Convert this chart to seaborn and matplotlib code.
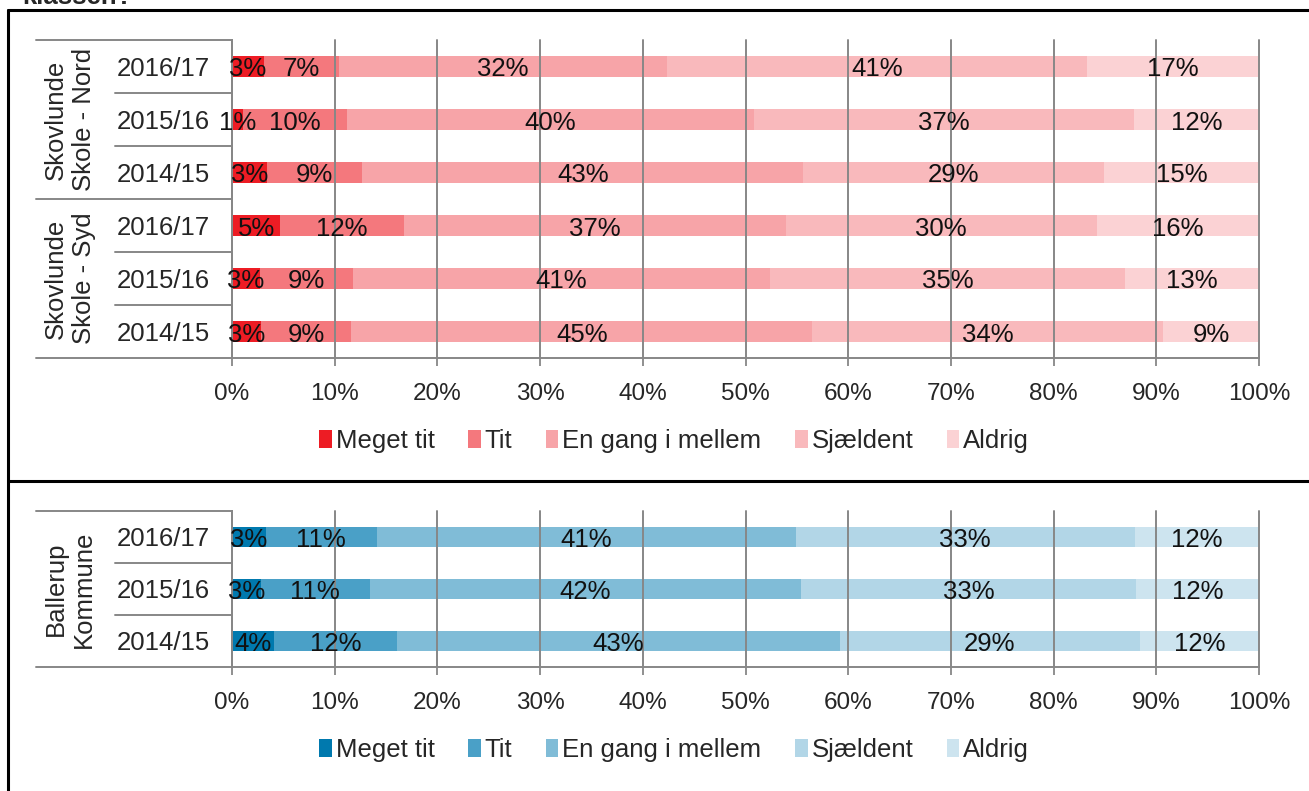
import matplotlib
matplotlib.use("Agg")
import matplotlib.pyplot as plt
import matplotlib.transforms as mtransforms
from matplotlib.patches import Patch
from matplotlib.lines import Line2D
import seaborn as sns
import pandas as pd
import numpy as np

# ---- data -------------------------------------------------------------
responses = ["Meget tit", "Tit", "En gang i mellem", "Sjældent", "Aldrig"]
years = ["2016/17", "2015/16", "2014/15"]
x_ticks = [0, 10, 20, 30, 40, 50, 60, 70, 80, 90, 100]

nord_2016 = [3.1, 7.3, 32.0, 40.9, 16.7]
nord_2015 = [1.1, 10.1, 39.6, 37.0, 12.2]
nord_2014 = [3.4, 9.3, 42.9, 29.3, 15.1]

syd_2016 = [4.7, 12.0, 37.2, 30.3, 15.8]
syd_2015 = [2.7, 9.1, 40.6, 34.6, 13.0]
syd_2014 = [2.8, 8.8, 44.9, 34.2, 9.3]

ballerup_2016 = [3.3, 10.8, 40.8, 33.0, 12.1]
ballerup_2015 = [2.8, 10.6, 42.0, 32.6, 12.0]
ballerup_2014 = [4.1, 12.0, 43.1, 29.2, 11.6]

groups_top = ["Skovlunde\nSkole - Nord", "Skovlunde\nSkole - Syd"]
groups_bottom = ["Ballerup\nKommune"]

reds = ["#ED1C24", "#F4787D", "#F7A4A8", "#F9B9BC", "#FBD2D4"]
blues = ["#0079AE", "#4AA0C7", "#80BCD7", "#B2D6E7", "#CDE4EF"]

# ---- style ------------------------------------------------------------
sns.set_style("white")
plt.rcParams["font.family"] = ["Liberation Sans", "DejaVu Sans"]
FS_TICK = 17.5
FS = 18.5
GRID = "#878787"

W, H = 1309, 791
fig = plt.figure(figsize=(W / 100, H / 100), dpi=100)


def fx(px):
    return px / W


def fy(py):
    return 1 - py / H


X0, X1 = 232, 1259


def ax_frac(px):
    return (px - X0) / (X1 - X0)


def draw_panel(ax, rows, groups, palette):
    # rows: list of (group_index, year, values)
    ids = [f"{g}|{y}" for g, y, _ in rows]
    recs = []
    for rid, (_, _, vals) in zip(ids, rows):
        cum = np.cumsum(vals)
        for r, v, c in zip(responses, vals, cum):
            recs.append({"row": rid, "response": r, "value": v, "cum": c})
    df = pd.DataFrame(recs)

    # stacked bars: draw cumulative totals from the last segment back to the first
    for r, col in reversed(list(zip(responses, palette))):
        sub = df[df["response"] == r]
        sns.barplot(data=sub, x="cum", y="row", order=ids, orient="h",
                    color=col, saturation=1, width=0.4, linewidth=0,
                    ax=ax, zorder=2)

    # value labels centred in each segment (sitting a touch low, as drawn)
    lab_tr = mtransforms.offset_copy(ax.transData, fig=fig, y=-3, units="dots")
    for i, rid in enumerate(ids):
        sub = df[df["row"] == rid]
        for _, rec in sub.iterrows():
            mid = rec["cum"] - rec["value"] / 2
            ax.text(mid, i, f"{rec['value']:.0f}%", ha="center", va="center",
                    fontsize=FS, color="#111111", zorder=5, transform=lab_tr)

    n = len(ids)
    ax.set_xlim(0, 100)
    ax.set_ylim(n - 0.5, -0.5)
    ax.set_xticks(x_ticks)
    ax.set_xticklabels([f"{t}%" for t in x_ticks], fontsize=FS_TICK)
    ax.set_yticks(range(n))
    ax.set_yticklabels([y for _, y, _ in rows], fontsize=FS)
    ax.set_xlabel("")
    ax.set_ylabel("")
    ax.tick_params(axis="x", length=6, width=1.3, color=GRID, pad=12, bottom=True)
    ax.tick_params(axis="y", length=0, pad=16)

    ax.grid(False)
    ax.set_axisbelow(False)
    for t in x_ticks:
        ax.axvline(t, color=GRID, lw=1.4, zorder=3, clip_on=False)

    for s in ["top", "right", "bottom"]:
        ax.spines[s].set_visible(False)
    ax.spines["left"].set_color(GRID)
    ax.spines["left"].set_linewidth(1.4)
    ax.spines["left"].set_zorder(4)

    tr = mtransforms.blended_transform_factory(ax.transAxes, ax.transData)
    xa, xb = ax_frac(36), ax_frac(115)
    # table lines for the category column
    ax.add_line(Line2D([xa, 0], [-0.5, -0.5], transform=tr, color=GRID,
                       lw=1.4, clip_on=False))
    ax.add_line(Line2D([xa, 1], [n - 0.5, n - 0.5], transform=tr, color=GRID,
                       lw=1.4, clip_on=False, zorder=4))
    for i in range(1, n):
        g_prev, g_cur = rows[i - 1][0], rows[i][0]
        start = xa if g_prev != g_cur else xb
        ax.add_line(Line2D([start, 0], [i - 0.5, i - 0.5], transform=tr,
                           color=GRID, lw=1.4, clip_on=False))

    # group labels, rotated
    for gi, gname in enumerate(groups):
        idx = [i for i, r in enumerate(rows) if r[0] == gi]
        yc = (idx[0] + idx[-1]) / 2
        ax.text(ax_frac(70), yc, gname, transform=tr, rotation=90,
                ha="center", va="center", multialignment="center",
                fontsize=FS, linespacing=1.2)


# ---- top panel ----------------------------------------------------------
ax1 = fig.add_axes([fx(X0), fy(358), fx(X1 - X0), (358 - 40) / H])
rows_top = [(0, years[0], nord_2016), (0, years[1], nord_2015), (0, years[2], nord_2014),
            (1, years[0], syd_2016), (1, years[1], syd_2015), (1, years[2], syd_2014)]
draw_panel(ax1, rows_top, groups_top, reds)

# ---- bottom panel -------------------------------------------------------
ax2 = fig.add_axes([fx(X0), fy(667), fx(X1 - X0), (667 - 511) / H])
rows_bottom = [(0, years[0], ballerup_2016), (0, years[1], ballerup_2015),
               (0, years[2], ballerup_2014)]
draw_panel(ax2, rows_bottom, groups_bottom, blues)

# ---- legends ------------------------------------------------------------
for ax, pal, ly in [(ax1, reds, 441), (ax2, blues, 750)]:
    handles = [Patch(facecolor=c, edgecolor="none") for c in pal]
    ax.legend(handles, responses, loc="center", ncol=5, frameon=False,
              bbox_to_anchor=(fx(674), fy(ly)), bbox_transform=fig.transFigure,
              fontsize=FS, handlelength=0.5, handleheight=0.65,
              handletextpad=0.15, columnspacing=1.3, borderaxespad=0)

# ---- panel frames and heading -------------------------------------------
frame_kw = dict(color="black", lw=2.2, transform=fig.transFigure, clip_on=False)
fig.add_artist(Line2D([fx(8), fx(8)], [fy(10), 0], **frame_kw))
fig.add_artist(Line2D([fx(8), 1], [fy(10), fy(10)], **frame_kw))
fig.add_artist(Line2D([fx(8), 1], [fy(481), fy(481)], **frame_kw))
fig.text(fx(22), fy(4), "klassen?", fontsize=FS, weight="bold", va="baseline")

fig.savefig("out.png", dpi=100)
